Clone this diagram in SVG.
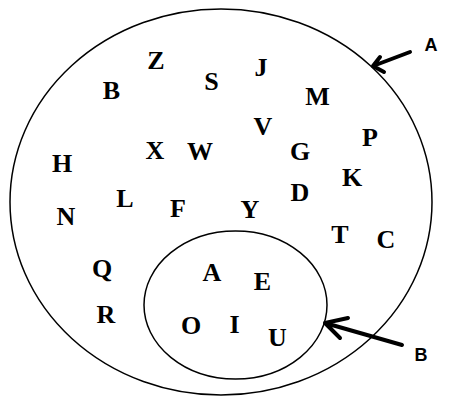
<svg xmlns="http://www.w3.org/2000/svg" width="460" height="406" viewBox="0 0 460 406">
<style>
.set{fill:none;stroke:#000;stroke-width:1.5}
.el{font-family:"Liberation Serif",serif;font-weight:bold;font-size:26px;text-anchor:middle;fill:#000}
.lbl{font-family:"Liberation Sans",Arial,sans-serif;font-weight:bold;font-size:18px;text-anchor:middle;fill:#000}
.arr{fill:none;stroke:#000;stroke-width:4;stroke-linecap:round;stroke-linejoin:round}
</style>
<rect width="460" height="406" fill="#fff"/>
<g id="setA">
<ellipse class="set" cx="221" cy="202" rx="211" ry="193"/>
<text class="lbl" x="431" y="51">A</text>
</g>
<g id="setB">
<ellipse class="set" cx="235.5" cy="305" rx="91.5" ry="74"/>
<text class="lbl" x="421" y="361">B</text>
</g>
<g id="elementsA">
<text class="el" x="156" y="69">Z</text>
<text class="el" x="111.5" y="99">B</text>
<text class="el" x="211.5" y="90">S</text>
<text class="el" x="261" y="76">J</text>
<text class="el" x="317.5" y="105">M</text>
<text class="el" x="263" y="135">V</text>
<text class="el" x="370" y="146">P</text>
<text class="el" x="62" y="172">H</text>
<text class="el" x="155" y="159">X</text>
<text class="el" x="200" y="160">W</text>
<text class="el" x="300" y="160">G</text>
<text class="el" x="352" y="186">K</text>
<text class="el" x="300" y="201">D</text>
<text class="el" x="125" y="207">L</text>
<text class="el" x="66" y="225">N</text>
<text class="el" x="178" y="217">F</text>
<text class="el" x="250" y="218">Y</text>
<text class="el" x="340" y="243">T</text>
<text class="el" x="386" y="248">C</text>
<text class="el" x="102" y="277">Q</text>
<text class="el" x="106" y="323">R</text>
</g>
<g id="elementsB">
<text class="el" x="212" y="281">A</text>
<text class="el" x="262.5" y="290">E</text>
<text class="el" x="191" y="334">O</text>
<text class="el" x="234.5" y="333">I</text>
<text class="el" x="277.5" y="346">U</text>
</g>
<g id="connectors">
<path class="arr" d="M410,52 L373,66 M380,57 L373,66 L384,72"/>
<path class="arr" d="M402,345 L325,323 M348,318 L325,323 L340,338"/>
</g>
</svg>
